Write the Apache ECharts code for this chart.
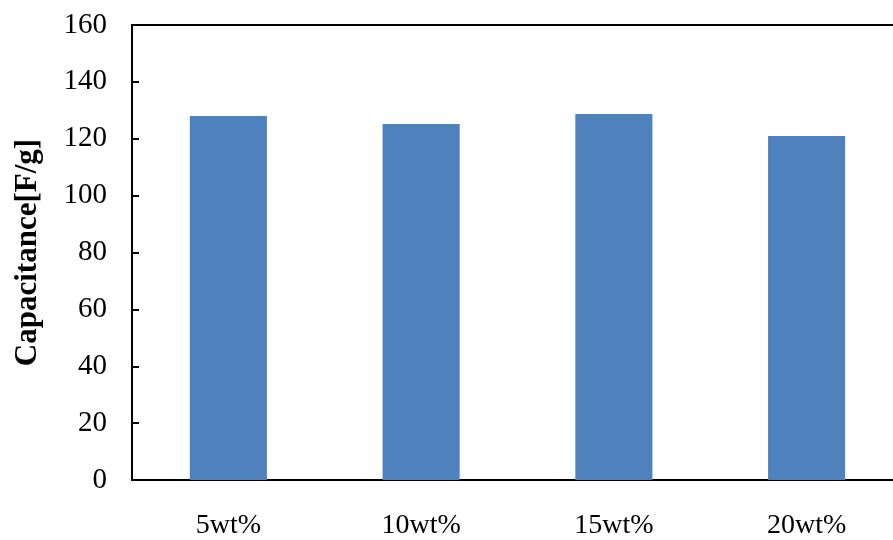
<!DOCTYPE html>
<html>
<head>
<meta charset="utf-8">
<script src="https://cdn.jsdelivr.net/npm/echarts@6/dist/echarts.min.js"></script>
<style>
  html, body { margin: 0; padding: 0; background: #fff; }
  #chart { width: 893px; height: 540px; }
</style>
</head>
<body>
<div id="chart"></div>
<script>
// Specific capacitance for each binder content
const categories = ['5wt%', '10wt%', '15wt%', '20wt%'];
const capacitance = [128.0, 125.2, 128.7, 121.0];
const yTicks = { min: 0, max: 160, step: 20 };

const FONT = '"Liberation Serif", "Times New Roman", serif';

const chart = echarts.init(document.getElementById('chart'), null, { renderer: 'canvas' });
chart.setOption({
  animation: false,
  backgroundColor: '#ffffff',
  grid: {
    left: 132,
    top: 25,
    bottom: 60,
    width: 771,
    outerBoundsMode: 'none',
    containLabel: false,
    show: true,
    borderColor: '#000',
    borderWidth: 2,
    backgroundColor: 'transparent'
  },
  xAxis: {
    type: 'category',
    data: categories,
    axisLine: { lineStyle: { color: '#000', width: 2 } },
    axisTick: { show: false },
    axisLabel: { color: '#000', fontFamily: FONT, fontSize: 28, margin: 32 },
    splitLine: { show: false }
  },
  yAxis: {
    type: 'value',
    min: yTicks.min,
    max: yTicks.max,
    interval: yTicks.step,
    name: 'Capacitance[F/g]',
    nameLocation: 'middle',
    nameGap: 89,
    nameTextStyle: { color: '#000', fontFamily: FONT, fontSize: 31, fontWeight: 'bold' },
    axisLine: { show: true, lineStyle: { color: '#000', width: 2 } },
    axisTick: { show: true, inside: true, length: 7, lineStyle: { color: '#000', width: 2 } },
    axisLabel: { color: '#000', fontFamily: FONT, fontSize: 29, margin: 25 },
    splitLine: { show: false }
  },
  series: [{
    type: 'bar',
    data: capacitance,
    barWidth: '40%',
    itemStyle: { color: '#4F81BD' }
  }]
});
</script>
</body>
</html>
